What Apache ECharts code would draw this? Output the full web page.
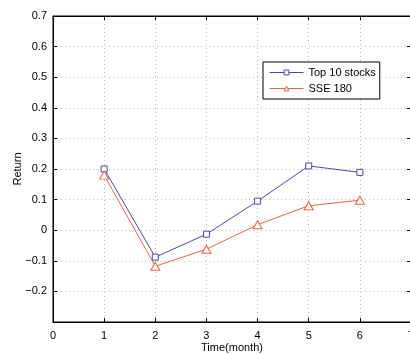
<!DOCTYPE html>
<html><head><meta charset="utf-8">
<script src="https://cdn.jsdelivr.net/npm/echarts@6/dist/echarts.min.js"></script>
<style>html,body{margin:0;padding:0;background:#fff}#c{width:410px;height:354px}</style>
</head><body><div id="c"></div>
<script>
var months = [1, 2, 3, 4, 5, 6];
var top10 = [0.20, -0.088, -0.013, 0.095, 0.21, 0.189];
var sse180 = [0.18, -0.118, -0.062, 0.018, 0.08, 0.098];
var seriesNames = ['Top 10 stocks', 'SSE 180'];
var xTicks = [0, 1, 2, 3, 4, 5, 6, 7];
var yMin = -0.3, yMax = 0.7, yStep = 0.1;

var font = 'Liberation Sans, Arial, sans-serif';
function pairs(v){ return months.map(function(m,i){ return [m, v[i]]; }); }
function yFmt(v){
  if (v < -0.25) return '';
  var r = Math.round(v*10)/10;
  if (r === 0) return '0';
  var s = Math.abs(r).toFixed(1);
  return (r < 0 ? '\u2212' : '') + s;
}
var chart = echarts.init(document.getElementById('c'), null, {renderer:'canvas'});
var axisCommon = {
  axisLine:{show:true, onZero:false, lineStyle:{color:'#000', width:1}},
  axisTick:{show:true, inside:true, length:4, lineStyle:{color:'#000'}},
};
chart.setOption({
  animation:false,
  textStyle:{fontFamily:font},
  grid:{left:53, width:358, top:16, bottom:32, show:true, borderColor:'#000', borderWidth:1,
        containLabel:false, outerBoundsMode:'none'},
  legend:{
    data:seriesNames, orient:'vertical', left:263, top:62,
    padding:[5,4,5,6], itemGap:5, itemWidth:34, itemHeight:6,
    backgroundColor:'#fff', borderColor:'#000', borderWidth:1,
    lineStyle:{width:1}, itemStyle:{borderWidth:1},
    textStyle:{fontFamily:font, fontSize:11, color:'#000'}
  },
  xAxis:[Object.assign({
    type:'value', min:xTicks[0], max:xTicks[xTicks.length-1], interval:1,
    name:'Time(month)', nameLocation:'middle', nameGap:20, nameMoveOverlap:false,
    nameTextStyle:{fontFamily:font, fontSize:11, color:'#000'},
    axisLabel:{fontFamily:font, fontSize:11, color:'#000', margin:8, showMaxLabel:true},
    splitLine:{show:true, lineStyle:{color:'#bbb', type:[1,3], width:1}}
  }, axisCommon), Object.assign({
    type:'value', position:'top', min:xTicks[0], max:xTicks[xTicks.length-1], interval:1,
    axisLabel:{show:false}, splitLine:{show:false}
  }, axisCommon)],
  yAxis:[Object.assign({
    type:'value', min:yMin, max:yMax, interval:yStep,
    name:'Return', nameLocation:'middle', nameGap:30, nameRotate:90, nameMoveOverlap:false,
    nameTextStyle:{fontFamily:font, fontSize:11, color:'#000'},
    axisLabel:{fontFamily:font, fontSize:11, color:'#000', margin:6, formatter:yFmt},
    splitLine:{show:true, lineStyle:{color:'#bbb', type:[1,3], width:1}}
  }, axisCommon), Object.assign({
    type:'value', position:'right', min:yMin, max:yMax, interval:yStep,
    axisLabel:{show:false}, splitLine:{show:false}
  }, axisCommon)],
  series:[{
    name:seriesNames[0], type:'line', data:pairs(top10),
    symbol:'rect', symbolSize:6,
    lineStyle:{color:'#4848b4', width:1}, itemStyle:{color:'#fff', borderColor:'#4848b4', borderWidth:1}
  },{
    name:seriesNames[1], type:'line', data:pairs(sse180),
    symbol:'triangle', symbolSize:[9,8],
    lineStyle:{color:'#f2603c', width:1}, itemStyle:{color:'#fff', borderColor:'#f2603c', borderWidth:1}
  }]
});
</script></body></html>
